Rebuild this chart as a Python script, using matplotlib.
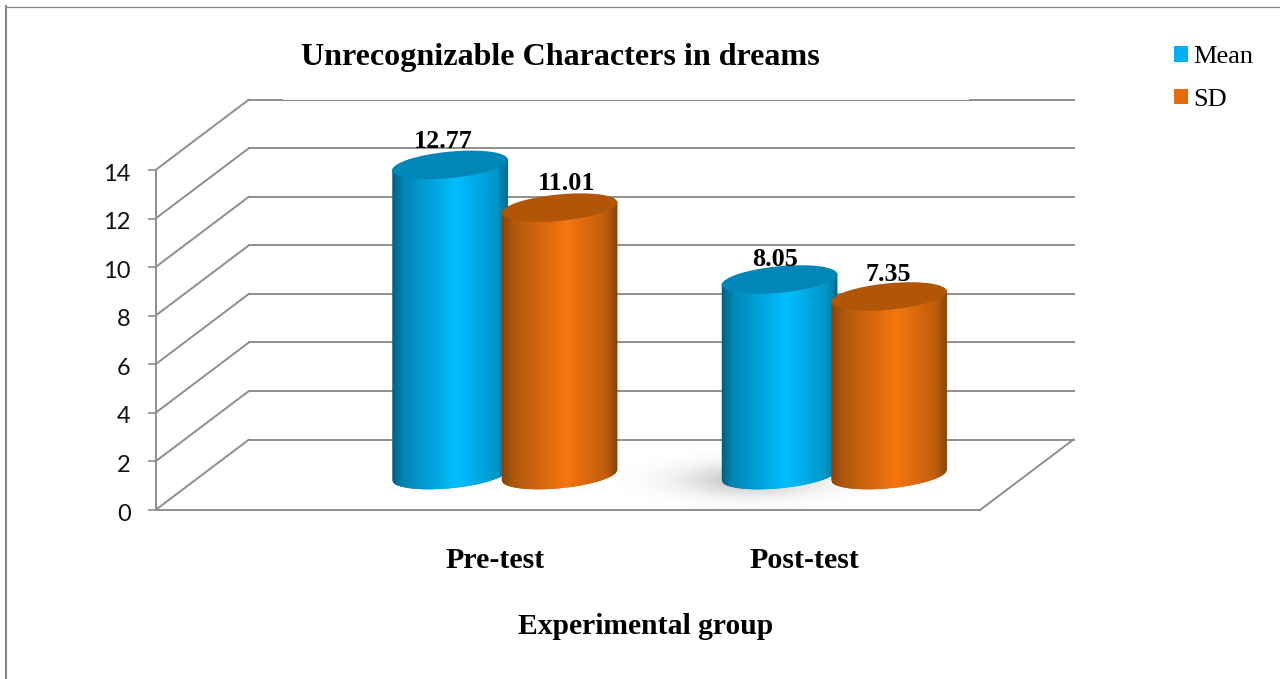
import numpy as np
import matplotlib
matplotlib.use("Agg")
import matplotlib.pyplot as plt
from matplotlib.patches import Ellipse, Patch
from matplotlib.collections import PolyCollection
from matplotlib.colors import to_rgb
from matplotlib.lines import Line2D
from matplotlib.transforms import Affine2D, ScaledTranslation

categories = ["Pre-test", "Post-test"]
series_names = ["Mean", "SD"]
mean_values = [12.77, 8.05]
sd_values = [11.01, 7.35]
y_ticks = [0, 2, 4, 6, 8, 10, 12, 14]

W, H = 1280, 679
AX_L, AX_R, AX_T, AX_B = 155.5, 980.0, 170.0, 510.0
PX_X = 329.5                      # pixels per category step
PX_Y = (AX_B - AX_T) / 14.0       # pixels per value unit
GROUP0_PX = 504.75
GRID = "#8e8e8e"
GRID_LW = 1.4
SERIF = "Liberation Serif"

fig = plt.figure(figsize=(W / 100, H / 100), dpi=100, facecolor="white")
ax = fig.add_axes([AX_L / W, 1 - AX_B / H, (AX_R - AX_L) / W, (AX_B - AX_T) / H])
ax.patch.set_alpha(0)
xlim = ((AX_L - GROUP0_PX) / PX_X, (AX_R - GROUP0_PX) / PX_X)
ylim = (0, 14)


def dx(px):
    return (px - GROUP0_PX) / PX_X


def dy(py):
    return (AX_B - py) / PX_Y


# page frame
fig.add_artist(Line2D([5.5 / W, 1], [1 - 6.5 / H] * 2, color="#858585", lw=0.9))
fig.add_artist(Line2D([6 / W] * 2, [0, 1 - 6 / H], color="#858585", lw=1.5))

# 3-D walls
depth_x = 93.5 / PX_X
depth_y = 70.5 / PX_Y
for v in y_ticks:
    ax.plot([xlim[0], xlim[0] + depth_x], [v, v + depth_y], color=GRID, lw=GRID_LW,
            clip_on=False, zorder=1, solid_capstyle="round")
    if v == 14:
        ax.plot([xlim[0] + depth_x, dx(282)], [v + depth_y] * 2, color=GRID, lw=GRID_LW, clip_on=False, zorder=1)
        ax.plot([dx(282), dx(970)], [v + depth_y] * 2, color=GRID, lw=0.8, clip_on=False, zorder=1)
        ax.plot([dx(970), xlim[1] + depth_x], [v + depth_y] * 2, color=GRID, lw=GRID_LW, clip_on=False, zorder=1)
    else:
        ax.plot([xlim[0] + depth_x, xlim[1] + depth_x], [v + depth_y] * 2, color=GRID, lw=GRID_LW,
                clip_on=False, zorder=1)
ax.plot([xlim[1], xlim[1] + depth_x], [0, depth_y], color=GRID, lw=GRID_LW, clip_on=False, zorder=1)

# soft shadow on the floor
gx, gy = np.meshgrid(np.linspace(590, 910, 260), np.linspace(425, 509, 90))
alpha = 0.3 * np.exp(-((gx - 750) / 47) ** 2 / 2 - ((gy - 480) / 11) ** 2 / 2)
rgba = np.zeros(gx.shape + (4,))
rgba[..., :3] = 0.25
rgba[..., 3] = alpha
im = ax.imshow(rgba, extent=(dx(590), dx(910), dy(509), dy(425)), origin="upper",
               aspect="auto", zorder=2, interpolation="bilinear")
im.set_clip_box(fig.bbox)

# cylinders
A, B, THETA = 58.0, 13.2, np.deg2rad(5.5)
BAR_HALF = np.hypot(A * np.cos(THETA), B * np.sin(THETA))
BASE = 35.0 / PX_Y
OFFSET = 54.75 / PX_X
STOPS = [0.0, 0.1, 0.56, 0.9, 1.0]
BODY = {"Mean": ["#005f80", "#0087b4", "#00bfff", "#0097ca", "#006a8f"],
        "SD": ["#87440a", "#b0570c", "#f5760f", "#c05e0b", "#87440a"]}
TOP = {"Mean": "#0087b7", "SD": "#b05606"}


def lower_arc(x):
    s, c = np.sin(THETA), np.cos(THETA)
    a2, b2 = A * A, B * B
    qa = s * s / a2 + c * c / b2
    qb = 2 * x * s * c * (1 / a2 - 1 / b2)
    qc = x * x * (c * c / a2 + s * s / b2) - 1
    return (-qb - np.sqrt(np.clip(qb * qb - 4 * qa * qc, 0, None))) / (2 * qa)


def cylinder(xc, value, name, z):
    rgb = np.array([to_rgb(c) for c in BODY[name]])
    edges = np.linspace(-BAR_HALF, BAR_HALF, 117)
    step = edges[1] - edges[0]
    polys, cols = [], []
    ytop = value + BASE
    for l, r in zip(edges[:-1], edges[1:]):
        # each strip runs under its right neighbour, so no seams show
        rr = min(r + 1.5 * step, BAR_HALF)
        arc = [lower_arc(p) for p in (l, rr)]
        polys.append([(xc + l / PX_X, ytop + (arc[0] + 1.5) / PX_Y),
                      (xc + rr / PX_X, ytop + (arc[1] + 1.5) / PX_Y),
                      (xc + rr / PX_X, BASE + arc[1] / PX_Y),
                      (xc + r / PX_X, BASE + lower_arc(r) / PX_Y),
                      (xc + l / PX_X, BASE + arc[0] / PX_Y)])
        t = (0.5 * (l + r) + BAR_HALF) / (2 * BAR_HALF)
        cols.append([np.interp(t, STOPS, rgb[:, k]) for k in range(3)])
    pc = PolyCollection(polys, facecolors=cols, edgecolors="none", linewidths=0,
                        zorder=z, clip_on=False)
    ax.add_collection(pc, autolim=False)
    lid = Ellipse((0, 0), 2 * A, 2 * B, angle=np.rad2deg(THETA), facecolor=TOP[name],
                  edgecolor="none", zorder=z + 0.1, clip_on=False,
                  transform=Affine2D() + ScaledTranslation(xc, ytop, ax.transData))
    ax.add_patch(lid)


label_nudge = {"Mean": [(-7, 17), (-4, 13.5)], "SD": [(7.5, 18), (-1, 15.5)]}
for i, cat in enumerate(categories):
    for j, (name, vals) in enumerate(zip(series_names, [mean_values, sd_values])):
        xc = i + (j * 2 - 1) * OFFSET
        cylinder(xc, vals[i], name, 3 + i + j * 0.5)
        nx, ny = label_nudge[name][i]
        ax.annotate(f"{vals[i]:.2f}", xy=(xc, vals[i] + BASE), xycoords="data",
                    xytext=(nx * 0.72, ny * 0.72), textcoords="offset points",
                    ha="center", va="baseline", family=SERIF, weight="bold",
                    fontsize=18.8, color="black", zorder=10, annotation_clip=False)

# axes furniture
ax.set_xlim(*xlim)
ax.set_ylim(*ylim)
for s in ("top", "right"):
    ax.spines[s].set_visible(False)
for s in ("left", "bottom"):
    ax.spines[s].set_color(GRID)
    ax.spines[s].set_linewidth(GRID_LW)
    ax.spines[s].set_zorder(1.5)
ax.set_yticks(y_ticks)
ax.set_yticklabels([str(v) for v in y_ticks], family="Lato", fontsize=17, color="#111111")
ax.tick_params(axis="y", length=5.8, width=1.2, color=GRID, pad=12)
for lab in ax.get_yticklabels():
    lab.set_transform(lab.get_transform() + ScaledTranslation(0, -1.5 / 72, fig.dpi_scale_trans))
ax.set_xticks([dx(495.5), dx(804)])
ax.set_xticklabels(categories, family=SERIF, weight="bold", fontsize=21.6, color="black")
ax.tick_params(axis="x", length=0, pad=26.7)
ax.set_xlabel("Experimental group", family=SERIF, weight="bold", fontsize=21.3, va="center")
ax.xaxis.set_label_coords((646 - AX_L) / (AX_R - AX_L), (AX_B - 627) / (AX_B - AX_T))
ax.set_title("Unrecognizable Characters in dreams", family=SERIF, weight="bold", fontsize=23.1,
             x=(560.5 - AX_L) / (AX_R - AX_L), y=(AX_B - 58) / (AX_B - AX_T), va="center", pad=0)

handles = [Patch(facecolor="#00b0f0", label=series_names[0]), Patch(facecolor="#e46c0a", label=series_names[1])]
fig.legend(handles=handles, loc="upper left", bbox_to_anchor=(1174 / W, 1 - 46 / H), frameon=False,
           borderpad=0, borderaxespad=0, handlelength=0.53, handleheight=0.53, handletextpad=0.2,
           labelspacing=0.78, prop={"family": SERIF, "size": 19})

fig.savefig("out.png", dpi=100)
